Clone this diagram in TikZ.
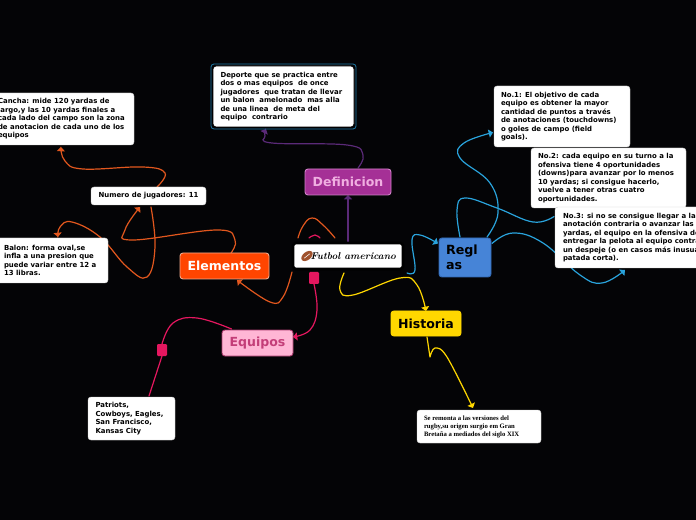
\documentclass[tikz,border=0pt]{standalone}
\usepackage{fontspec}
\setsansfont{DejaVu Sans}
\newfontfamily\serifbox{Liberation Serif}
\usetikzlibrary{arrows.meta,backgrounds,calc}
\definecolor{bgc}{HTML}{040406}
\definecolor{orangec}{HTML}{E2571E}
\definecolor{pinkc}{HTML}{E5175F}
\definecolor{purplec}{HTML}{5B2A78}
\definecolor{bluec}{HTML}{29A3DC}
\definecolor{yellowc}{HTML}{FFD700}
\definecolor{ballc}{HTML}{A0522D}
\tikzset{
  x=0.75pt,y=-0.75pt,
  sized/.style 2 args={minimum width=#1*0.75pt,minimum height=#2*0.75pt,inner sep=0pt,outer sep=0pt,rounded corners=2.2pt},
  note/.style={fill=white,draw=gray!40,line width=0.3pt,align=left,font=\sffamily\bfseries\fontsize{5.2pt}{6.35pt}\selectfont,text=black},
  topic/.style={line width=0.7pt,font=\sffamily\bfseries\fontsize{9.4pt}{10pt}\selectfont},
  link/.style={line width=0.9pt,line cap=round},
  tipped/.style={link,-{Triangle[length=3.2pt,width=6pt]}},
  marker/.style={fill=pinkc,inner sep=0pt,outer sep=0pt,minimum width=7.5pt,minimum height=9pt,rounded corners=0.8pt}
}
\begin{document}
\begin{tikzpicture}
\useasboundingbox (0,0) rectangle (696,520);
\clip (0,0) rectangle (696,520);
% nodes
\node[note,sized={141}{61},draw=black,line width=0.6pt] (def) at (283.5,96.5) {\parbox{126\dimexpr0.75pt}{Deporte que se practica entre\\dos o mas equipos\ \ de once\\jugadores\ \ que tratan de llevar\\un balon\ \ amelonado\ \ mas alla\\de una linea\ \ de meta del\\equipo\ \ contrario}};
\node[sized={145}{65},draw=bluec!75!black,line width=0.6pt] (defo) at (283.5,96.5) {};
\node[note,sized={140}{52}] (cancha) at (64,119) {\parbox{132\dimexpr0.75pt}{Cancha: mide 120 yardas de\\largo,y las 10 yardas finales a\\cada lado del campo son la zona\\de anotacion de cada uno de los\\equipos}};
\node[note,sized={115}{18}] (num) at (148.5,196) {Numero de jugadores: 11};
\node[note,sized={112}{45}] (balon) at (52,260.5) {\parbox{96\dimexpr0.75pt}{Balon: forma oval,se\\infla a una presion que\\puede variar entre 12 a\\13 libras.}};
\node[note,sized={136}{61}] (no1) at (562,116.5) {\parbox{122\dimexpr0.75pt}{No.1: El objetivo de cada\\equipo es obtener la mayor\\cantidad de puntos a través\\de anotaciones (touchdowns)\\o goles de campo (field\\goals).}};
\node[note,sized={155}{60}] (no2) at (608.5,178) {\parbox{141\dimexpr0.75pt}{No.2: cada equipo en su turno a la\\ofensiva tiene 4 oportunidades\\(downs)para avanzar por lo menos\\10 yardas; si consigue hacerlo,\\vuelve a tener otras cuatro\\oportunidades.}};
\node[note,sized={290}{61},anchor=west] (no3) at (555,237.5) {\parbox{274\dimexpr0.75pt}{No.3: si no se consigue llegar a la\\anotación contraria o avanzar las 10\\yardas, el equipo en la ofensiva debe\\entregar la pelota al equipo contrario\\un despeje (o en casos más inusuales\\patada corta).}};
\node[note,sized={87}{43}] (pat) at (131.5,418.5) {\parbox{72\dimexpr0.75pt}{Patriots,\\Cowboys, Eagles,\\San Francisco,\\Kansas City}};
\node[note,sized={124}{33},font=\serifbox\bfseries\fontsize{5pt}{6pt}\selectfont] (rem) at (479,426.5) {\parbox{110\dimexpr0.75pt}{Se remonta a las versiones del\\rugby,su origen surgio em Gran\\Bretaña a mediados del siglo XIX}};
\node[topic,sized={86}{26},fill={rgb,255:red,165;green,48;blue,150},draw={rgb,255:red,210;green,130;blue,200},text={rgb,255:red,240;green,175;blue,225}] (defin) at (348,182) {Definicion};
\node[topic,sized={89}{26},fill={rgb,255:red,255;green,69;blue,0},draw={rgb,255:red,240;green,170;blue,140},text=white] (elem) at (224.5,266) {Elementos};
\node[topic,sized={71}{26},fill={rgb,255:red,255;green,182;blue,213},draw={rgb,255:red,170;green,60;blue,110},text={rgb,255:red,195;green,62;blue,120}] (equi) at (257.5,343) {Equipos};
\node[topic,sized={70}{25},fill=yellowc,draw=yellowc,text=black] (hist) at (426,323.5) {Historia};
\node[topic,sized={52}{39},fill={rgb,255:red,70;green,132;blue,215},draw={rgb,255:red,50;green,105;blue,180},text=black,align=left] (reg) at (465,257.5) {\parbox{38\dimexpr0.75pt}{\fontsize{9.5pt}{11.5pt}\selectfont Regl\\as}};
\node[sized={110}{26},fill=white,draw=black,line width=2pt,font=\itshape\bfseries\fontsize{7.4pt}{10pt}\selectfont] (title) at (348,256) {\hspace{8pt}Futbol americano};
\begin{scope}[rotate around={38:(307,256)}]
\fill[ballc] (307,256) ellipse (6.5 and 4);
\draw[white,line width=0.4pt] (303.5,256) -- (310.5,256);
\end{scope}
\node[marker] (sqa) at (314,278) {};
\node[marker] (sqb) at (162,350) {};
% free ends of the connectors hidden behind boxes
\coordinate (numa) at ($(num.north)+(8.5,0)$);
\coordinate (numb) at ($(num.south)+(2.5,2)$);
\coordinate (numc) at ($(num.south)+(-8.5,2)$);
\coordinate (balt) at ($(balon.north)+(6,-1)$);
\coordinate (canb) at ($(cancha.south)+(-3,2)$);
\coordinate (elt) at ($(elem.north)+(6.5,0)$);
\coordinate (tsl) at ($(title.south)+(-56,3)$);
\coordinate (tsy) at ($(title.south)+(-4,4)$);
\coordinate (tsb) at ($(title.south)+(59,4)$);
\coordinate (tl1) at ($(title.north)+(-50,-5)$);
\coordinate (tl2) at ($(title.north)+(-13,-5)$);
\coordinate (tp1) at ($(title.north)+(-39,-5)$);
\coordinate (tp2) at ($(title.north)+(-28,-5)$);
\coordinate (rega) at ($(reg.north)+(22,-1)$);
\coordinate (regb) at ($(reg.north)+(-5,-1)$);
\coordinate (regc) at ($(reg.east)+(1,-14)$);
\coordinate (n2e) at ($(no3.west)+(-1,-21)$);
\coordinate (n3b) at ($(no3.south west)+(70,2)$);
\coordinate (eqt) at ($(equi.north)+(-26,-1)$);
\coordinate (eqr) at ($(equi.east)+(0,-6)$);
\coordinate (deft) at ($(defin.north)+(10,-1)$);
\coordinate (defb) at ($(defo.south)+(-17.5,0)$);
\coordinate (hb) at ($(hist.south)+(1,1)$);
\coordinate (rt) at ($(rem.north)+(-6,-2)$);
\coordinate (patt) at ($(pat.north)+(17.5,-1)$);
\coordinate (regl) at ($(reg.west)+(-1,-14)$);
\coordinate (no1l) at ($(no1.west)+(-1,16)$);
\begin{scope}[on background layer]
\fill[bgc] (0,0) rectangle (696,520);
% orange
\draw[tipped,orangec] plot[smooth,tension=0.7] coordinates {(numa) (165,173) (143,167) (83,169) (65,161) (canb)};
\draw[tipped,orangec] plot[smooth,tension=0.7] coordinates {(numb) (155,247) (147,277) (127,267) (100,237) (72,222) (60,227) (balt)};
\draw[tipped,orangec] plot[smooth,tension=0.7] coordinates {(elt) (235,240) (217,230) (133,240) (125,230) (numc)};
\draw[tipped,orangec] plot[smooth,tension=0.7] coordinates {(tsl) (283,297) (270,302) (237,280)};
\draw[link,orangec] plot[smooth,tension=0.8] coordinates {(tl1) (303,226) (312,218) (323,225) (tl2)};
% pink
\draw[link,pinkc] plot[smooth,tension=0.9] coordinates {(tp1) (315,235) (tp2)};
\draw[tipped,pinkc] plot[smooth,tension=0.7] coordinates {(sqa.south) (317,310) (310,330) (eqr)};
\draw[link,pinkc] plot[smooth,tension=0.7] coordinates {(eqt) (197,318) (173,323) (sqb.north)};
\draw[link,pinkc] (sqb.south) -- (patt);
% purple
\draw[-{Triangle[length=3.2pt,width=6pt]},link,purplec] (title.north) -- (defin.south);
\draw[tipped,purplec] plot[smooth,tension=0.7] coordinates {(deft) (363,155) (347,145) (272,143) (265,136) (defb)};
% yellow
\draw[tipped,yellowc] plot[smooth,tension=0.7] coordinates {(tsy) (340,290) (353,295) (400,278) (417,285) (hist.north)};
\draw[tipped,yellowc] (hb) -- (430,357) plot[smooth,tension=0.6] coordinates {(430,357) (435,348) (447,357) (rt)};
% blue
\draw[tipped,bluec] plot[smooth,tension=0.7] coordinates {(tsb) (415,270) (412,240) (420,235) (regl)};
\draw[tipped,bluec] plot[smooth,tension=0.7] coordinates {(rega) (498,213) (490,183) (460,158) (464,143) (no1l)};
\draw[link,bluec] plot[smooth,tension=0.7] coordinates {(regb) (457,210) (465,198) (497,208) (533,222) (n2e)};
\draw[tipped,bluec] plot[smooth,tension=0.7] coordinates {(regc) (513,233) (543,243) (580,275) (602,283) (n3b)};
\end{scope}
\end{tikzpicture}
\end{document}
